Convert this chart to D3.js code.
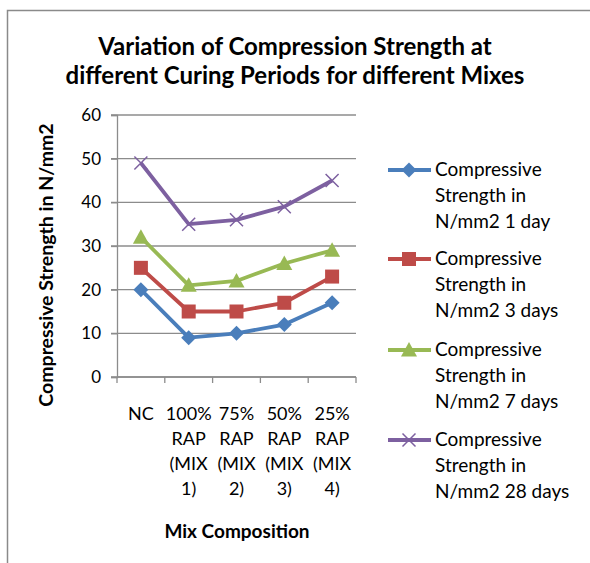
<!DOCTYPE html>
<html><head><meta charset="utf-8">
<script src="https://cdn.jsdelivr.net/npm/d3@7"></script>
<style>body{margin:0;background:#fff}svg{display:block}text{font-family:Lato,"Open Sans",sans-serif}</style>
</head><body><svg id="c" width="590" height="563"></svg>
<script>
const categories = [["NC"],["100%","RAP","(MIX","1)"],["75%","RAP","(MIX","2)"],["50%","RAP","(MIX","3)"],["25%","RAP","(MIX","4)"]];
const catKeys = ["NC","100% RAP (MIX 1)","75% RAP (MIX 2)","50% RAP (MIX 3)","25% RAP (MIX 4)"];
const seriesNames = [["Compressive","Strength in","N/mm2 1 day"],["Compressive","Strength in","N/mm2 3 days"],["Compressive","Strength in","N/mm2 7 days"],["Compressive","Strength in","N/mm2 28 days"]];
const day1 = [20, 9, 10, 12, 17];
const day3 = [25, 15, 15, 17, 23];
const day7 = [32, 21, 22, 26, 29];
const day28 = [49, 35, 36, 39, 45];
const yTicks = [0,10,20,30,40,50,60];
const colors = ["#4A7EBB","#BE4B48","#98B954","#7D60A0"];
const markers = ["diamond","square","triangle","x"];
const series = [day1, day3, day7, day28];

const svg = d3.select("#c");
svg.append("rect").attr("x",7.5).attr("y",10.5).attr("width",600).attr("height",600).attr("fill","none").attr("stroke","#8a8a8a").attr("stroke-width",1.5);

const x = d3.scaleBand().domain(catKeys).range([117,356]);
const y = d3.scaleLinear().domain([0,60]).range([377,115]);

// gridlines
svg.append("g").selectAll("line").data(yTicks).join("line")
  .attr("x1",111).attr("x2",356).attr("y1",d=>y(d)).attr("y2",d=>y(d))
  .attr("stroke","#8c8c8c").attr("stroke-width",1.3);
// y axis
const ya = svg.append("g").attr("transform","translate(117,0)")
  .call(d3.axisLeft(y).tickValues(yTicks).tickSize(6).tickPadding(10));
ya.select(".domain").attr("stroke","#8c8c8c").attr("stroke-width",1.3);
ya.selectAll(".tick line").attr("stroke","#8c8c8c").attr("stroke-width",1.3);
ya.selectAll("text").attr("font-size",17).attr("fill","#000").attr("font-family","Lato");
// x axis
const xa = svg.append("g").attr("transform","translate(0,377)");
xa.append("line").attr("x1",117).attr("x2",356).attr("stroke","#8c8c8c").attr("stroke-width",1.3);
const bounds = catKeys.map(k=>x(k)).concat([x.range()[1]]);
xa.selectAll("line.t").data(bounds).join("line").attr("class","t")
  .attr("x1",d=>d).attr("x2",d=>d).attr("y1",0).attr("y2",6).attr("stroke","#8c8c8c").attr("stroke-width",1.3);
catKeys.forEach((k,i)=>{
  const t = svg.append("text").attr("text-anchor","middle").attr("font-size",18).attr("fill","#000");
  categories[i].forEach((ln,j)=>{
    t.append("tspan").attr("x",x(k)+x.bandwidth()/2).attr("y",420+j*25).text(ln);
  });
});

// lines & markers
const line = d3.line().x((d,i)=>x(catKeys[i])+x.bandwidth()/2).y(d=>y(d));
function drawMarker(g,type,cx,cy,color){
  if(type==="diamond"){
    g.append("path").attr("d",`M${cx},${cy-7.5}L${cx+7.5},${cy}L${cx},${cy+7.5}L${cx-7.5},${cy}Z`).attr("fill",color);
  } else if(type==="square"){
    g.append("rect").attr("x",cx-7).attr("y",cy-7).attr("width",14).attr("height",14).attr("fill",color);
  } else if(type==="triangle"){
    g.append("path").attr("d",`M${cx},${cy-8}L${cx+8},${cy+6.5}L${cx-8},${cy+6.5}Z`).attr("fill",color);
  } else {
    g.append("path").attr("d",`M${cx-6.5},${cy-6.5}L${cx+6.5},${cy+6.5}M${cx-6.5},${cy+6.5}L${cx+6.5},${cy-6.5}`).attr("stroke",color).attr("stroke-width",1.5);
  }
}
series.forEach((s,si)=>{
  svg.append("path").datum(s).attr("d",line).attr("fill","none").attr("stroke",colors[si]).attr("stroke-width",3.8).attr("stroke-linejoin","round");
  const g = svg.append("g");
  s.forEach((v,i)=>drawMarker(g,markers[si],x(catKeys[i])+x.bandwidth()/2,y(v),colors[si]));
});

// title
const tt = svg.append("text").attr("text-anchor","middle").attr("font-size",24).attr("font-weight","bold").attr("fill","#000");
tt.append("tspan").attr("x",295).attr("y",55).text("Variation of Compression Strength at");
tt.append("tspan").attr("x",295).attr("y",84).text("different Curing Periods for different Mixes");

// axis titles
svg.append("text").attr("transform","translate(53,265) rotate(-90)").attr("text-anchor","middle")
  .attr("font-size",19.5).attr("font-weight","bold").text("Compressive Strength in N/mm2");
svg.append("text").attr("x",237).attr("y",538).attr("text-anchor","middle")
  .attr("font-size",19).attr("font-weight","bold").text("Mix Composition");

// legend
const legY = [170,259,350,440];
seriesNames.forEach((nm,si)=>{
  const g = svg.append("g");
  g.append("line").attr("x1",388).attr("x2",431).attr("y1",legY[si]).attr("y2",legY[si]).attr("stroke",colors[si]).attr("stroke-width",3.8);
  drawMarker(g,markers[si],409,legY[si],colors[si]);
  const t = g.append("text").attr("font-size",19).attr("fill","#000");
  nm.forEach((ln,j)=>t.append("tspan").attr("x",435).attr("y",legY[si]+6+j*26).text(ln));
});
</script></body></html>
